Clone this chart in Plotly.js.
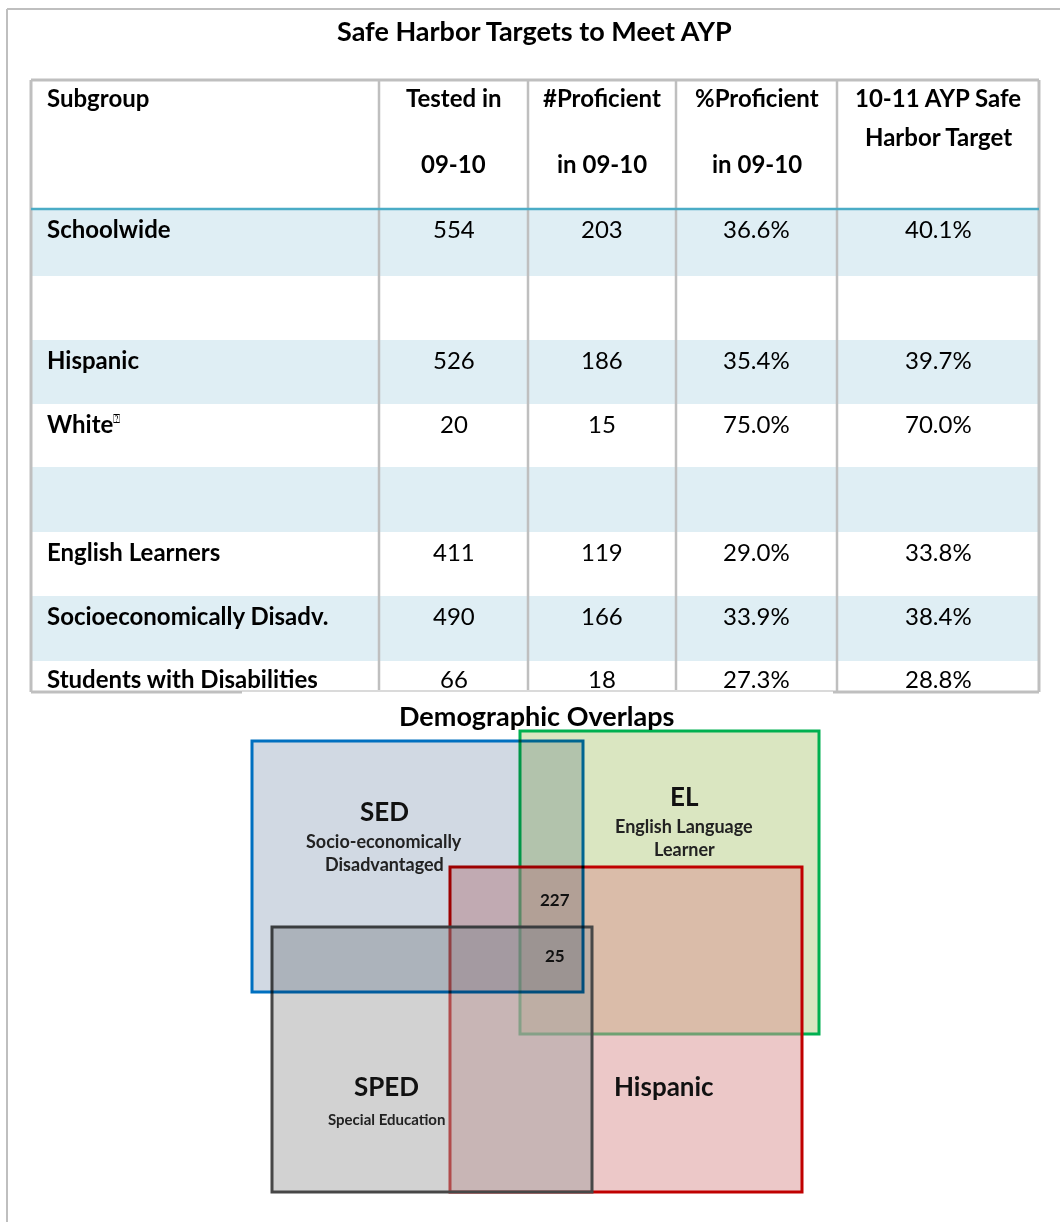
<!DOCTYPE html>
<html>
<head>
<meta charset="utf-8">
<script src="https://cdn.plot.ly/plotly-3.0.1.min.js"></script>
<style>
  html, body { margin: 0; padding: 0; background: #ffffff; }
  #chart { width: 1060px; height: 1222px; }
</style>
</head>
<body>
<div id="chart"></div>
<script>
// ---------------- DATA ----------------
const tableTitle = "Safe Harbor Targets to Meet AYP";
const headerLine1 = ["Subgroup", "Tested in", "#Proficient", "%Proficient", "10-11 AYP Safe"];
const headerLine2 = ["", "09-10", "in 09-10", "in 09-10", "Harbor Target"];
const subgroups = ["Schoolwide", "", "Hispanic", "White", "", "English Learners",
                   "Socioeconomically Disadv.", "Students with Disabilities"];
const footnoteMark = ["", "", "", "\u2370", "", "", "", ""];
const tested = [554, null, 526, 20, null, 411, 490, 66];
const proficient = [203, null, 186, 15, null, 119, 166, 18];
const pctProficient = [36.6, null, 35.4, 75.0, null, 29.0, 33.9, 27.3];
const safeHarborTarget = [40.1, null, 39.7, 70.0, null, 33.8, 38.4, 28.8];

const vennTitle = "Demographic Overlaps";
const vennGroups = ["EL", "Hispanic", "SPED", "SED"];
const vennSubtitles = [["English Language", "Learner"], [], ["Special Education"], ["Socio-economically", "Disadvantaged"]];
const overlapCounts = [227, 25];

// ---------------- LAYOUT CONSTANTS ----------------
const W = 1060, H = 1222;
const FONT = "Lato, 'Open Sans', sans-serif";
const colEdges = [31, 379, 528, 676, 837, 1039];
const tableTop = 80, headerBottom = 209;
const rowEdges = [209, 276, 340, 404, 467, 532, 596, 661, 692];
const shadeColor = "#DFEEF4";
const gridColor = "#BFBFBF";

// Venn rectangles in page pixels, draw order: green, red, gray, blue (blue blends by multiply)
const vennBoxes = {
  EL:       {x0: 520, x1: 819, y0: 731, y1: 1034, fill: "rgb(218,230,193)", line: "#00B050"},
  Hispanic: {x0: 450, x1: 802, y0: 867, y1: 1192, fill: "rgba(218,147,147,0.51)", line: "#C00000"},
  SPED:     {x0: 272, x1: 592, y0: 927, y1: 1192, fill: "rgba(160,160,160,0.47)", line: "#474747"},
  SED:      {x0: 252, x1: 583, y0: 741, y1: 992,  fill: "rgb(209,217,227)", line: "#0070C0"}
};
const vennLabelPos = {
  EL: {x: 684, y: 796}, Hispanic: {x: 664, y: 1086},
  SPED: {x: 386, y: 1086}, SED: {x: 384, y: 811}
};
const overlapPos = [{x: 555, y: 899}, {x: 555, y: 955}];

// ---------------- BUILD ----------------
const shapes = [];
const annotations = [];

function line(x0, y0, x1, y1, color, width) {
  shapes.push({type: "line", xref: "x", yref: "y", x0, y0, x1, y1,
               line: {color, width}});
}
function text(x, y, t, opts) {
  annotations.push(Object.assign({
    xref: "x", yref: "y", x, y, text: t, showarrow: false,
    xanchor: "center", yanchor: "middle",
    font: {family: FONT, size: 24, color: "#000000"}
  }, opts || {}));
}

// outer frame
line(7, 9, W, 9, gridColor, 2);
line(7, 9, 7, H, gridColor, 2);

// title
text(534, 30, "<b>" + tableTitle + "</b>", {font: {family: FONT, size: 27, color: "#000"}});

// row shading
for (let i = 0; i < subgroups.length; i++) {
  if (i % 2 === 0) {
    shapes.push({type: "rect", xref: "x", yref: "y",
      x0: colEdges[0], x1: colEdges[colEdges.length - 1],
      y0: rowEdges[i], y1: rowEdges[i + 1],
      fillcolor: shadeColor, line: {width: 0}});
  }
}

// grid
const tb = rowEdges[rowEdges.length - 1];
line(colEdges[0], tableTop, colEdges[5], tableTop, gridColor, 3);
for (let c = 0; c < colEdges.length; c++) {
  line(colEdges[c], tableTop, colEdges[c], tb, gridColor, c === 0 || c === 5 ? 3 : 2.5);
}
line(colEdges[0], tb, 242, tb, gridColor, 3);
line(242, tb - 1, 833, tb - 1, "#DADADA", 2);
line(833, tb, colEdges[5], tb, gridColor, 3);
line(colEdges[0], headerBottom, colEdges[5], headerBottom, "#4BACC6", 2.5);

// headers
const colCenters = colEdges.slice(0, -1).map((e, i) => (e + colEdges[i + 1]) / 2);
text(45, 97, "<b>" + headerLine1[0] + "</b>", {xanchor: "left"});
for (let c = 1; c < headerLine1.length; c++) {
  text(colCenters[c], 97, "<b>" + headerLine1[c] + "</b>");
  const y2 = c === 4 ? 136 : 163;
  text(colCenters[c], y2, "<b>" + headerLine2[c] + "</b>");
}

// body
const fmtPct = v => v.toFixed(1) + "%";
for (let i = 0; i < subgroups.length; i++) {
  const y = rowEdges[i] + (i === subgroups.length - 1 ? 17 : 19);
  if (subgroups[i]) {
    let t = "<b>" + subgroups[i] + "</b>";
    if (footnoteMark[i]) t += "<sup><span style='font-size:12px'>" + footnoteMark[i] + "</span></sup>";
    text(45, y, t, {xanchor: "left"});
  }
  if (tested[i] !== null) text(colCenters[1], y, String(tested[i]));
  if (proficient[i] !== null) text(colCenters[2], y, String(proficient[i]));
  if (pctProficient[i] !== null) text(colCenters[3], y, fmtPct(pctProficient[i]));
  if (safeHarborTarget[i] !== null) text(colCenters[4], y, fmtPct(safeHarborTarget[i]));
}

// venn title
text(536, 715, "<b>" + vennTitle + "</b>", {font: {family: FONT, size: 27, color: "#000"}});

// venn boxes
const multiplyShapeIndex = [];
["EL", "Hispanic", "SPED", "SED"].forEach(k => {
  const b = vennBoxes[k];
  if (k === "SED") multiplyShapeIndex.push(shapes.length);
  shapes.push({type: "rect", xref: "x", yref: "y", x0: b.x0, x1: b.x1, y0: b.y0, y1: b.y1,
    fillcolor: b.fill, line: {color: b.line, width: 3}});
});

// venn labels
vennGroups.forEach((g, i) => {
  const p = vennLabelPos[g];
  text(p.x, p.y, "<b>" + g + "</b>", {font: {family: FONT, size: 26, color: "#111"}});
  vennSubtitles[i].forEach((s, j) => {
    const dy = g === "SPED" ? 33 : 30 + j * 23;
    text(p.x, p.y + dy, "<b>" + s + "</b>", {font: {family: FONT, size: g === "SPED" ? 15 : 18, color: "#222"}});
  });
});
overlapCounts.forEach((v, i) => {
  text(overlapPos[i].x, overlapPos[i].y, "<b>" + v + "</b>", {font: {family: FONT, size: 17, color: "#111"}});
});

const layout = {
  width: W, height: H,
  margin: {l: 0, r: 0, t: 0, b: 0, pad: 0},
  paper_bgcolor: "#ffffff", plot_bgcolor: "#ffffff",
  xaxis: {range: [0, W], visible: false, fixedrange: true},
  yaxis: {range: [H, 0], visible: false, fixedrange: true},
  showlegend: false,
  shapes, annotations
};

Plotly.newPlot("chart", [], layout, {staticPlot: true, displayModeBar: false}).then(gd => {
  // the SED box darkens what lies under it (multiply), as in the reference
  multiplyShapeIndex.forEach(idx => {
    gd.querySelectorAll('.shapelayer path[data-index="' + idx + '"]').forEach(p => {
      p.style.mixBlendMode = "multiply";
      let g = p.parentNode;
      while (g && !(g.classList && g.classList.contains("shapelayer"))) {
        g.style.mixBlendMode = "multiply";
        g = g.parentNode;
      }
    });
  });
});
</script>
</body>
</html>
